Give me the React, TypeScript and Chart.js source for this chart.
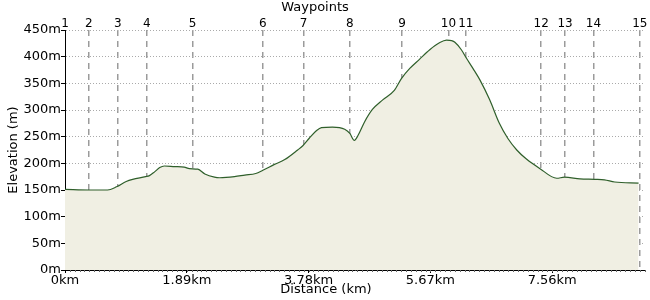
import React, { useEffect, useRef } from 'react';
import { Chart, registerables } from 'chart.js';

Chart.register(...registerables);

// Elevation profile samples
const distanceKm = [0, 0.38, 0.66, 0.80, 0.95, 1.05, 1.25, 1.31, 1.39, 1.47, 1.54, 1.70, 1.85, 1.93, 2.06, 2.17, 2.32, 2.40, 2.63, 2.79, 2.96, 3.07, 3.25, 3.41, 3.61, 3.69, 3.79, 3.90, 3.98, 4.15, 4.34, 4.42, 4.49, 4.55, 4.65, 4.77, 4.93, 5.11, 5.22, 5.35, 5.50, 5.66, 5.81, 5.92, 6.00, 6.05, 6.15, 6.23, 6.33, 6.44, 6.59, 6.74, 6.87, 7.01, 7.16, 7.36, 7.63, 7.75, 7.99, 8.22, 8.37, 8.53, 8.90];
const elevationM = [151, 150, 150, 156, 166, 170, 175, 177, 184, 192, 195, 194, 193, 190, 189, 180, 174, 173, 175, 178, 181, 187, 198, 207, 225, 233, 247, 261, 267, 268, 264, 256, 243, 253, 278, 301, 319, 337, 359, 378, 395, 413, 426, 431, 430, 427, 413, 397, 378, 356, 319, 275, 247, 225, 208, 191, 172, 174, 171, 170, 169, 165, 163];

// Waypoints
const waypointKm = [0, 0.37, 0.82, 1.27, 1.98, 3.07, 3.70, 4.42, 5.23, 5.95, 6.22, 7.39, 7.76, 8.20, 8.92];
const waypointLabels = ['1', '2', '3', '4', '5', '6', '7', '8', '9', '10', '11', '12', '13', '14', '15'];

// Axis ticks
const distanceTickKm = [0, 1.89, 3.78, 5.67, 7.56];
const distanceTickLabels = ['0km', '1.89km', '3.78km', '5.67km', '7.56km'];
const elevationTicks = [0, 50, 100, 150, 200, 250, 300, 350, 400, 450];
const distanceMaxKm = 9.0;
const minorStepKm = 1.89 / 25;

const FONT = "'DejaVu Sans', Verdana, sans-serif";
const CLEAR = 'rgba(0,0,0,0)';

export default function App() {
  const ref = useRef<HTMLCanvasElement>(null);

  useEffect(() => {
    const canvas = ref.current!;

    const extras = {
      id: 'extras',
      afterDraw(chart: any) {
        const ctx = chart.ctx;
        const xs = chart.scales.x;
        const y0 = chart.chartArea.bottom;
        ctx.save();
        ctx.strokeStyle = '#666';
        ctx.lineWidth = 1;
        ctx.beginPath();
        for (let v = minorStepKm; v < xs.max; v += minorStepKm) {
          const px = Math.round(xs.getPixelForValue(v)) + 0.5;
          ctx.moveTo(px, y0);
          ctx.lineTo(px, y0 + 2);
        }
        ctx.stroke();
        ctx.fillStyle = '#000';
        ctx.font = `13px ${FONT}`;
        ctx.textAlign = 'center';
        ctx.textBaseline = 'middle';
        ctx.fillText('Waypoints', 315, 7.5);
        ctx.fillText('Distance (km)', 326, 289.5);
        ctx.restore();
      },
    };

    const chart = new Chart(canvas, {
      type: 'line',
      data: {
        datasets: [
          {
            data: distanceKm.map((d, i) => ({ x: d, y: elevationM[i] })),
            borderColor: '#2f5f2b',
            borderWidth: 1.2,
            backgroundColor: '#f0efe3',
            fill: 'origin',
            cubicInterpolationMode: 'monotone',
            pointRadius: 0,
            xAxisID: 'x',
            yAxisID: 'y',
          },
        ],
      },
      options: {
        responsive: false,
        animation: false,
        devicePixelRatio: 1,
        layout: { padding: { left: 0, right: 5, top: 0, bottom: 0 } },
        plugins: { legend: { display: false }, tooltip: { enabled: false } },
        scales: {
          x: {
            type: 'linear',
            position: 'bottom',
            min: 0,
            max: distanceMaxKm,
            z: 1,
            afterBuildTicks: (s: any) => {
              s.ticks = distanceTickKm.map((v) => ({ value: v }));
            },
            afterFit: (s: any) => {
              s.height = 30;
              s.paddingLeft = 0;
              s.paddingRight = 0;
            },
            ticks: {
              autoSkip: false,
              maxRotation: 0,
              color: '#000',
              font: { family: FONT, size: 13 },
              padding: 0,
              callback: (_v: any, i: number) => distanceTickLabels[i],
            },
            grid: { drawOnChartArea: false, drawTicks: true, tickLength: 3, tickColor: '#000', color: '#000' },
            border: { display: true, color: '#000', width: 1 },
          },
          x2: {
            type: 'linear',
            position: 'top',
            min: 0,
            max: distanceMaxKm,
            z: 1,
            afterBuildTicks: (s: any) => {
              s.ticks = waypointKm.map((v) => ({ value: v }));
            },
            afterFit: (s: any) => {
              s.height = 30;
              s.paddingLeft = 0;
              s.paddingRight = 0;
            },
            ticks: {
              autoSkip: false,
              maxRotation: 0,
              color: '#000',
              font: { family: FONT, size: 12 },
              padding: -1,
              callback: (_v: any, i: number) => waypointLabels[i],
            },
            grid: {
              drawOnChartArea: true,
              drawTicks: false,
              color: (c: any) => (c.index === 0 ? CLEAR : '#9b9b9b'),
              lineWidth: 1.5,
              borderDash: [6, 5],
            } as any,
            border: { display: false, dash: [6, 5] },
          },
          y: {
            type: 'linear',
            min: 0,
            max: 450,
            z: 1,
            afterBuildTicks: (s: any) => {
              s.ticks = elevationTicks.map((v) => ({ value: v }));
            },
            afterFit: (s: any) => {
              s.width = 65;
              s.paddingTop = 0;
              s.paddingBottom = 0;
            },
            ticks: {
              color: '#000',
              font: { family: FONT, size: 13 },
              padding: 0,
              callback: (v: any) => `${v}m`,
            },
            grid: {
              color: (c: any) => (c.tick && c.tick.value === 0 ? CLEAR : '#aaaaaa'),
              lineWidth: 1,
              drawTicks: true,
              tickLength: 4,
              tickColor: '#000',
              borderDash: [1, 2],
            } as any,
            border: { display: true, color: '#000', width: 1, dash: [1, 2] },
            title: {
              display: true,
              text: 'Elevation (m)',
              color: '#000',
              font: { family: FONT, size: 13 },
              padding: { top: 6, bottom: 0 },
            },
          },
        },
      } as any,
      plugins: [extras],
    });

    return () => chart.destroy();
  }, []);

  return (
    <canvas
      ref={ref}
      width={650}
      height={300}
      style={{ position: 'fixed', left: 0, top: 0, width: 650, height: 300 }}
    />
  );
}
